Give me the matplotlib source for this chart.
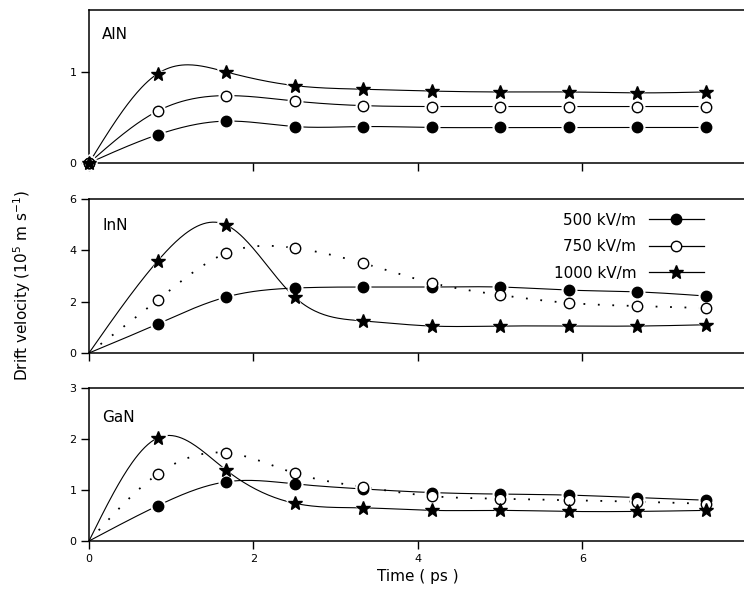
import numpy as np
import matplotlib
matplotlib.use('Agg')
import matplotlib.pyplot as plt
from matplotlib.lines import Line2D

# time points (ps)
time_ps = [0, 0.833, 1.667, 2.5, 3.333, 4.167, 5.0, 5.833, 6.667, 7.5]

# drift velocity (10^5 m/s)
aln_500 = [0, 0.31, 0.46, 0.40, 0.40, 0.39, 0.39, 0.39, 0.39, 0.39]
aln_750 = [0, 0.57, 0.74, 0.68, 0.63, 0.62, 0.62, 0.62, 0.62, 0.62]
aln_1000 = [0, 0.98, 1.00, 0.85, 0.81, 0.79, 0.78, 0.78, 0.77, 0.78]

inn_500 = [0, 1.13, 2.18, 2.53, 2.57, 2.57, 2.57, 2.45, 2.38, 2.22]
inn_750 = [0, 2.06, 3.89, 4.09, 3.50, 2.73, 2.26, 1.95, 1.83, 1.75]
inn_1000 = [0, 3.58, 4.99, 2.18, 1.25, 1.05, 1.05, 1.05, 1.05, 1.10]

gan_500 = [0, 0.69, 1.16, 1.12, 1.02, 0.95, 0.92, 0.90, 0.85, 0.80]
gan_750 = [0, 1.31, 1.73, 1.33, 1.06, 0.88, 0.83, 0.80, 0.77, 0.73]
gan_1000 = [0, 2.02, 1.39, 0.74, 0.65, 0.60, 0.60, 0.58, 0.58, 0.60]

fields = ['500 kV/m', '750 kV/m', '1000 kV/m']


def smooth(x, y, n=400):
    # natural cubic spline through the points, only for drawing the line
    x = np.asarray(x, float)
    y = np.asarray(y, float)
    m = len(x)
    h = np.diff(x)
    A = np.zeros((m, m))
    b = np.zeros(m)
    A[0, 0] = A[-1, -1] = 1
    for i in range(1, m - 1):
        A[i, i - 1] = h[i - 1]
        A[i, i] = 2 * (h[i - 1] + h[i])
        A[i, i + 1] = h[i]
        b[i] = 6 * ((y[i + 1] - y[i]) / h[i] - (y[i] - y[i - 1]) / h[i - 1])
    M = np.linalg.solve(A, b)
    xs = np.linspace(x[0], x[-1], n)
    k = np.clip(np.searchsorted(x, xs) - 1, 0, m - 2)
    t1 = x[k + 1] - xs
    t0 = xs - x[k]
    hk = h[k]
    ys = (M[k] * t1 ** 3 / (6 * hk) + M[k + 1] * t0 ** 3 / (6 * hk)
          + (y[k] / hk - M[k] * hk / 6) * t1 + (y[k + 1] / hk - M[k + 1] * hk / 6) * t0)
    return xs, ys


fig = plt.figure(figsize=(7.44, 6.07), dpi=100)
left, width = 89 / 744, 658 / 744
ax1 = fig.add_axes([left, 1 - 163 / 607, width, 153 / 607])
ax2 = fig.add_axes([left, 1 - 353 / 607, width, 154 / 607])
ax3 = fig.add_axes([left, 1 - 541 / 607, width, 153 / 607])

dots = (0, (1, 7))
panels = [
    (ax1, 'AlN', [aln_500, aln_750, aln_1000], ['-', '-', '-'], (0, 1.68), [0, 1], 0.84),
    (ax2, 'InN', [inn_500, inn_750, inn_1000], ['-', dots, '-'], (0, 6), [0, 2, 4, 6], 0.825),
    (ax3, 'GaN', [gan_500, gan_750, gan_1000], ['-', dots, '-'], (0, 3), [0, 1, 2, 3], 0.81),
]
markers = [dict(marker='o', mfc='black', ms=7.5),
           dict(marker='o', mfc='white', ms=7.5),
           dict(marker='*', mfc='black', ms=10)]

for ax, name, series, styles, ylim, yticks, ty in panels:
    for vals, ls in zip(series, styles):
        xs, ys = smooth(time_ps, vals)
        lw = 1.3 if ls == dots else 0.8
        ax.plot(xs, ys, color='black', lw=lw, ls=ls, zorder=2)
    start = 0 if name == 'AlN' else 1
    # white halo under markers so lines stop short of them
    for vals, mk in zip(series, markers):
        ax.plot(time_ps[start:], vals[start:], ls='none', marker=mk['marker'],
                ms=mk['ms'] + 3, mfc='white', mec='white', zorder=3, clip_on=False)
    for vals, mk in zip(series, markers):
        ax.plot(time_ps[start:], vals[start:], ls='none', marker=mk['marker'],
                ms=mk['ms'], mfc=mk['mfc'], mec='black', mew=1.0, zorder=4, clip_on=False)
    ax.set_xlim(0, 8)
    ax.set_ylim(*ylim)
    ax.set_yticks(yticks)
    ax.set_xticks([0, 2, 4, 6, 8])
    ax.tick_params(direction='out', length=6, width=1.0, labelsize=8, pad=3)
    for sp in ax.spines.values():
        sp.set_linewidth(1.1)
    ax.text(0.02, ty, name, transform=ax.transAxes, fontsize=11, va='center', ha='left')

ax1.tick_params(labelbottom=False)
ax2.tick_params(labelbottom=False)
ax3.set_xlabel('Time ( ps )', fontsize=11, labelpad=4)

handles = [Line2D([], [], color='black', lw=0.9, marker=mk['marker'], ms=mk['ms'],
                  mfc=mk['mfc'], mec='black') for mk in markers]
ax2.legend(handles, fields, loc='upper right', bbox_to_anchor=(0.955, 1.0),
           markerfirst=False, frameon=False, fontsize=11, handlelength=3.6,
           labelspacing=0.75, handletextpad=0.8)

fig.text(22 / 744, 1 - 285 / 607, 'Drift velocity (10$^5$ m s$^{-1}$)',
         rotation=90, ha='center', va='center', fontsize=11)

fig.savefig('out.png', dpi=100)
